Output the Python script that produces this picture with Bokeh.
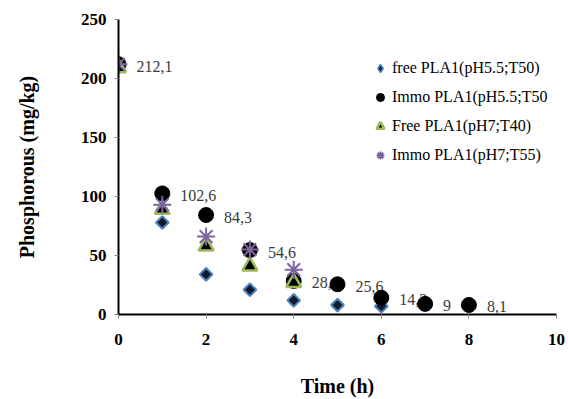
import math
from bokeh.plotting import figure
from bokeh.models import ColumnDataSource, Range1d, FixedTicker, Legend, LegendItem
from bokeh.core.properties import value
from bokeh.embed import file_html
from bokeh.resources import INLINE

# Residual phosphorus over time for free / immobilised PLA1
time_free55 = [0, 1, 2, 3, 4, 5, 6]
free_ph55_t50 = [210, 78, 34, 21, 12, 8, 7]

time_immo55 = [0, 1, 2, 3, 4, 5, 6, 7, 8]
immo_ph55_t50 = [212.1, 102.6, 84.3, 54.6, 28.4, 25.6, 14.2, 9, 8.1]
immo_labels = ["212,1", "102,6", "84,3", "54,6", "28,4", "25,6", "14,2", "9", "8,1"]

time_ph7 = [0, 1, 2, 3, 4]
free_ph7_t40 = [209, 89, 58, 41, 27]
immo_ph7_t55 = [212, 93, 66, 55, 38]

x_ticks = [0, 2, 4, 6, 8, 10]
y_ticks = [0, 50, 100, 150, 200, 250]

SERIF = "Liberation Serif"

p = figure(width=568, height=399, output_backend="svg", toolbar_location=None,
           x_range=Range1d(0, 10), y_range=Range1d(0, 250),
           min_border_left=118, min_border_right=12,
           min_border_top=19, min_border_bottom=84)
p.outline_line_color = None
p.xgrid.grid_line_color = None
p.ygrid.grid_line_color = None
p.background_fill_color = "white"
p.border_fill_color = "white"

for ax in (p.xaxis[0], p.yaxis[0]):
    ax.axis_line_color = "black"
    ax.axis_line_width = 2
    ax.major_tick_line_color = "#888888"
    ax.major_tick_in = 0
    ax.major_tick_out = 4
    ax.minor_tick_line_color = None
    ax.major_label_text_font = SERIF
    ax.major_label_text_font_style = "bold"
    ax.major_label_text_font_size = "17px"
    ax.major_label_text_color = "black"
    ax.axis_label_text_font = SERIF
    ax.axis_label_text_font_style = "bold"
    ax.axis_label_text_font_size = "20px"
    ax.axis_label_text_color = "black"

p.xaxis.ticker = FixedTicker(ticks=x_ticks)
p.yaxis.ticker = FixedTicker(ticks=y_ticks)
p.xaxis.axis_label = "Time (h)"
p.yaxis.axis_label = "Phosphorous (mg/kg)"
p.xaxis.major_label_standoff = 15
p.xaxis.axis_label_standoff = 27
p.yaxis.major_label_standoff = 8
p.yaxis.axis_label_standoff = 40

# value labels for the immobilised pH5.5 series (drawn beneath the markers)
lbl_src = ColumnDataSource(dict(x=time_immo55, y=immo_ph55_t50, t=immo_labels))
p.text(x="x", y="y", text="t", source=lbl_src, x_offset=18, y_offset=2,
       text_font=value(SERIF), text_font_size="16px", text_color="#3a3a3a",
       text_baseline="middle", text_align="left")

r_free55 = p.scatter(time_free55, free_ph55_t50, marker="square", size=9,
                     angle=math.pi / 4,
                     fill_color="#0f1c30", line_color="#4F81BD", line_width=2)
r_immo55 = p.scatter(time_immo55, immo_ph55_t50, marker="circle", size=15,
                     fill_color="black", line_color="black")
r_free7 = p.scatter(time_ph7, free_ph7_t40, marker="triangle", size=15,
                    fill_color="black", line_color="#9BBB59", line_width=2.5)
r_immo7 = p.scatter(time_ph7, immo_ph7_t55, marker="asterisk", size=18,
                    line_color="#8064A2", line_width=2)

# legend swatch for the diamond series (its single point lies outside the axes)
r_free55_key = p.scatter([-100], [-100], marker="diamond", size=10,
                         fill_color="#0f1c30", line_color="#4F81BD", line_width=1.5)

legend = Legend(items=[
    LegendItem(label="free PLA1(pH5.5;T50)", renderers=[r_free55_key]),
    LegendItem(label="Immo PLA1(pH5.5;T50", renderers=[r_immo55]),
    LegendItem(label="Free PLA1(pH7;T40)", renderers=[r_free7]),
    LegendItem(label="Immo PLA1(pH7;T55)", renderers=[r_immo7]),
], location=(252, 149))
legend.border_line_color = None
legend.background_fill_alpha = 0
legend.padding = 0
legend.margin = 0
legend.spacing = 9
legend.glyph_width = 20
legend.glyph_height = 20
legend.label_standoff = 2
legend.label_text_font = SERIF
legend.label_text_font_size = "16px"
legend.label_text_color = "black"
p.add_layout(legend)

open("out.html", "w").write(file_html(p, INLINE))
